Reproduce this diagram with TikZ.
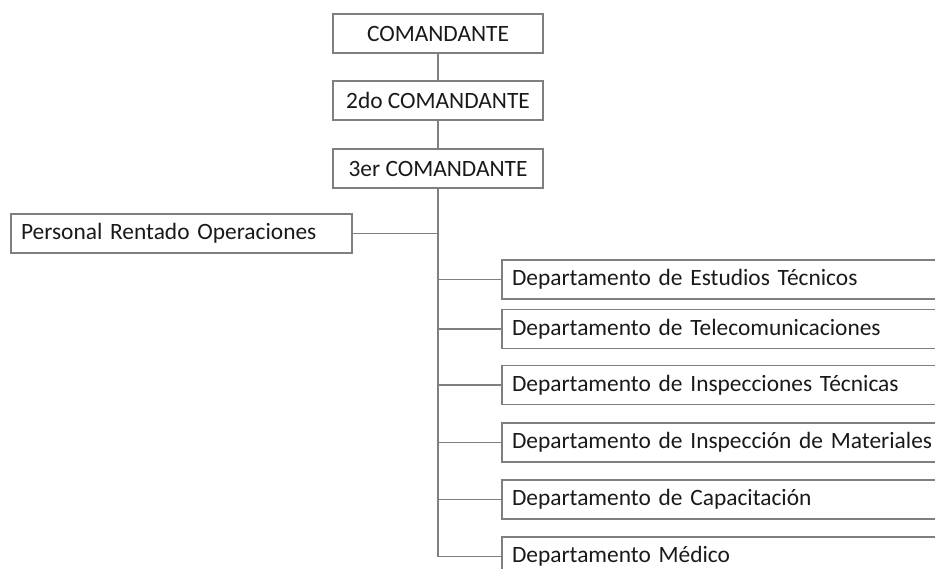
\documentclass[tikz,border=0pt]{standalone}
\usepackage{fontspec}
\setmainfont{Carlito}
\definecolor{linegray}{HTML}{7F7F7F}
\definecolor{txt}{HTML}{1A1A1A}
\begin{document}
\begin{tikzpicture}[x=1pt,y=-1pt,
  box/.style={draw=linegray,line width=1.4pt,fill=white,text=txt,font=\fontsize{23.4}{26}\selectfont,minimum height=39pt,inner sep=0pt},
  cbox/.style={box,minimum width=210pt},
  pbox/.style={box,minimum width=341pt,text width=321pt,align=left},
  dbox/.style={box,minimum width=458pt,text width=438pt,align=left},
  conn/.style={draw=linegray,line width=1.4pt}]
\useasboundingbox (0,0) rectangle (935,569);
\fill[white] (0,0) rectangle (935,569);
% top chain
\node[cbox] (c1) at (438,33.5) {COMANDANTE};
\node[cbox] (c2) at (438,100.5) {2do COMANDANTE};
\node[cbox] (c3) at (438,168.5) {3er COMANDANTE};
% left box
\node[pbox] (p) at (181.5,233.5) {Personal Rentado Operaciones};
% departments
\node[dbox] (d1) at (731,279.5) {Departamento de Estudios Técnicos};
\node[dbox] (d2) at (731,329) {Departamento de Telecomunicaciones};
\node[dbox] (d3) at (731,385) {Departamento de Inspecciones Técnicas};
\node[dbox] (d4) at (731,442.5) {Departamento de Inspección de Materiales};
\node[dbox] (d5) at (731,499.5) {Departamento de Capacitación};
\node[dbox] (d6) at (731,556.5) {Departamento Médico};
% connectors
\draw[conn] (c1.south) -- (c2.north);
\draw[conn] (c2.south) -- (c3.north);
\draw[conn] (c3.south) |- (d6.west);
\draw[conn] (p.east) -- (p.east -| c3.south);
\foreach \d in {d1,d2,d3,d4,d5}{
  \draw[conn] (\d.west) -- (\d.west -| c3.south);
}
\end{tikzpicture}
\end{document}
